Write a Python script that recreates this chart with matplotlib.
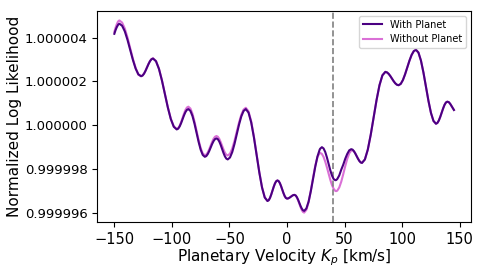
import numpy as np
import matplotlib
matplotlib.use("Agg")
import matplotlib.pyplot as plt
from matplotlib.ticker import FormatStrFormatter

# planetary velocity grid (km/s)
kp = [-150.0, -149.0, -148.0, -147.0, -146.3, -145.6,
      -143.25, -140.9, -138.55, -136.2, -133.85, -131.5, -129.15, -126.8,
      -125.5, -124.2, -122.9, -121.6, -120.3, -119.0, -117.7, -116.4,
      -113.825, -111.25, -108.675, -106.1, -103.525, -100.95, -98.375, -95.8,
      -94.54, -93.275, -92.01, -90.75, -89.49, -88.225, -86.96, -85.7,
      -83.91, -82.125, -80.34, -78.55, -76.76, -74.975, -73.19, -71.4,
      -70.14, -68.875, -67.61, -66.35, -65.09, -63.825, -62.56, -61.3,
      -60.075, -58.85, -57.625, -56.4, -55.175, -53.95, -52.725, -51.5,
      -49.54, -47.575, -45.61, -43.65, -41.69, -39.725, -37.76, -35.8,
      -33.45, -31.1, -28.75, -26.4, -24.05, -21.7, -19.35, -17.0,
      -15.91, -14.825, -13.74, -12.65, -11.56, -10.475, -9.39, -8.3,
      -7.26, -6.225, -5.19, -4.15, -3.11, -2.075, -1.04, 0.0,
      0.81, 1.625, 2.44, 3.25, 4.06, 4.875, 5.69, 6.5,
      7.55, 8.6, 9.65, 10.7, 11.75, 12.8, 13.85, 14.9,
      16.825, 18.75, 20.675, 22.6, 24.525, 26.45, 28.375, 28.8, 30.3,
      31.75, 33.2, 34.65, 36.1, 37.55, 39.0, 40.45, 41.9, 42.7,
      43.64, 45.375, 47.11, 48.85, 50.59, 52.325, 54.06, 55.8,
      56.96, 58.125, 59.29, 60.45, 61.61, 62.775, 63.94, 65.1,
      67.64, 70.175, 72.71, 75.25, 77.79, 80.325, 82.86, 85.4,
      86.84, 88.275, 89.71, 91.15, 92.59, 94.025, 95.46, 96.9,
      98.79, 100.675, 102.56, 104.45, 106.34, 108.225, 110.11, 112.0,
      114.175, 116.35, 118.525, 120.7, 122.875, 125.05, 127.225, 129.4,
      130.64, 131.875, 133.11, 134.35, 135.59, 136.825, 138.06, 139.3,
      140.7, 142.0, 143.5, 145.0]

# normalized log likelihood minus 1, in units of 1e-6
with_planet = [4.17, 4.33, 4.46, 4.56, 4.61, 4.63,
               4.539, 4.28, 3.889, 3.43, 2.971, 2.58, 2.321, 2.23,
               2.261, 2.348, 2.480, 2.635, 2.790, 2.922, 3.009, 3.04,
               2.917, 2.567, 2.040, 1.42, 0.800, 0.273, -0.077, -0.20,
               -0.165, -0.064, 0.087, 0.265, 0.443, 0.594, 0.695, 0.73,
               0.647, 0.412, 0.057, -0.36, -0.777, -1.132, -1.367, -1.45,
               -1.418, -1.327, -1.191, -1.03, -0.869, -0.733, -0.642, -0.61,
               -0.647, -0.750, -0.906, -1.09, -1.274, -1.430, -1.533, -1.57,
               -1.482, -1.234, -0.860, -0.42, 0.020, 0.394, 0.642, 0.73,
               0.570, 0.117, -0.567, -1.37, -2.173, -2.857, -3.310, -3.47,
               -3.434, -3.333, -3.180, -3.00, -2.820, -2.667, -2.566, -2.53,
               -2.562, -2.651, -2.786, -2.945, -3.104, -3.239, -3.328, -3.36,
               -3.354, -3.335, -3.308, -3.275, -3.242, -3.215, -3.196, -3.19,
               -3.218, -3.297, -3.415, -3.555, -3.695, -3.813, -3.892, -3.92,
               -3.809, -3.495, -3.022, -2.465, -1.908, -1.435, -1.121, -1.08, -1.01,
               -1.068, -1.230, -1.476, -1.765, -2.054, -2.300, -2.462, -2.52, -2.512,
               -2.466, -2.302, -2.038, -1.81, -1.538, -1.318, -1.154, -1.10,
               -1.124, -1.194, -1.297, -1.415, -1.536, -1.636, -1.706, -1.73,
               -1.572, -1.122, -0.446, 0.35, 1.146, 1.822, 2.272, 2.43,
               2.407, 2.341, 2.242, 2.125, 2.008, 1.909, 1.843, 1.82,
               1.882, 2.057, 2.320, 2.63, 2.940, 3.203, 3.378, 3.44,
               3.311, 2.946, 2.397, 1.75, 1.103, 0.554, 0.189, 0.06,
               0.098, 0.207, 0.372, 0.565, 0.758, 0.923, 1.032, 1.07,
               1.04, 0.95, 0.82, 0.69]

without_planet = [4.26, 4.44, 4.59, 4.71, 4.76, 4.78,
                  4.683, 4.409, 3.996, 3.51, 3.024, 2.611, 2.297, 2.24,
                  2.271, 2.358, 2.490, 2.645, 2.800, 2.932, 3.019, 3.05,
                  2.927, 2.578, 2.053, 1.435, 0.817, 0.292, -0.057, -0.18,
                  -0.141, -0.031, 0.135, 0.33, 0.525, 0.691, 0.801, 0.84,
                  0.755, 0.516, 0.155, -0.27, -0.695, -1.056, -1.295, -1.38,
                  -1.346, -1.253, -1.108, -0.94, -0.772, -0.628, -0.534, -0.50,
                  -0.534, -0.630, -0.775, -0.945, -1.115, -1.260, -1.356, -1.39,
                  -1.307, -1.071, -0.717, -0.30, 0.117, 0.471, 0.707, 0.79,
                  0.628, 0.169, -0.522, -1.335, -2.148, -2.838, -3.298, -3.46,
                  -3.434, -3.333, -3.180, -3.00, -2.820, -2.667, -2.566, -2.53,
                  -2.562, -2.651, -2.786, -2.945, -3.104, -3.239, -3.328, -3.36,
                  -3.354, -3.335, -3.308, -3.275, -3.242, -3.215, -3.196, -3.19,
                  -3.221, -3.310, -3.440, -3.595, -3.750, -3.880, -3.969, -4.00,
                  -3.873, -3.525, -2.993, -2.406, -1.860, -1.458, -1.277, -1.27, -1.320,
                  -1.457, -1.669, -1.930, -2.213, -2.491, -2.731, -2.909, -3.006, -3.02,
                  -2.998, -2.852, -2.588, -2.244, -1.875, -1.542, -1.291, -1.161,
                  -1.154, -1.200, -1.288, -1.403, -1.524, -1.631, -1.704, -1.73,
                  -1.572, -1.122, -0.446, 0.35, 1.146, 1.822, 2.272, 2.43,
                  2.407, 2.341, 2.242, 2.125, 2.008, 1.909, 1.843, 1.82,
                  1.882, 2.057, 2.320, 2.63, 2.940, 3.203, 3.378, 3.44,
                  3.311, 2.946, 2.397, 1.75, 1.103, 0.554, 0.189, 0.06,
                  0.098, 0.207, 0.372, 0.565, 0.758, 0.923, 1.032, 1.07,
                  1.04, 0.95, 0.82, 0.69]

kp_true = 40
yticks = [0.999996, 0.999998, 1.000000, 1.000002, 1.000004]

y_with = 1 + np.array(with_planet) * 1e-6
y_without = 1 + np.array(without_planet) * 1e-6

fig = plt.figure(figsize=(4.82, 2.71), dpi=100)
ax = fig.add_axes([0.202, 0.18, 0.775, 0.78])
ax.plot(kp, y_with, color="indigo", lw=1.5, label="With Planet", zorder=3)
ax.plot(kp, y_without, color="orchid", lw=1.5, label="Without Planet", zorder=2)
ax.axvline(kp_true, color="gray", ls="--", lw=1.2)

ax.set_yticks(yticks)
ax.yaxis.set_major_formatter(FormatStrFormatter('%.6f'))
ax.tick_params(axis="x", labelsize=10.5)
ax.tick_params(axis="y", labelsize=9.5)
ax.set_xlabel(r'Planetary Velocity $K_p$ [km/s]', fontsize=11, labelpad=0)
ax.set_ylabel('Normalized Log Likelihood', fontsize=11, labelpad=2)
ax.legend(loc="upper right", fontsize=7)

fig.savefig("out.png", dpi=100)
